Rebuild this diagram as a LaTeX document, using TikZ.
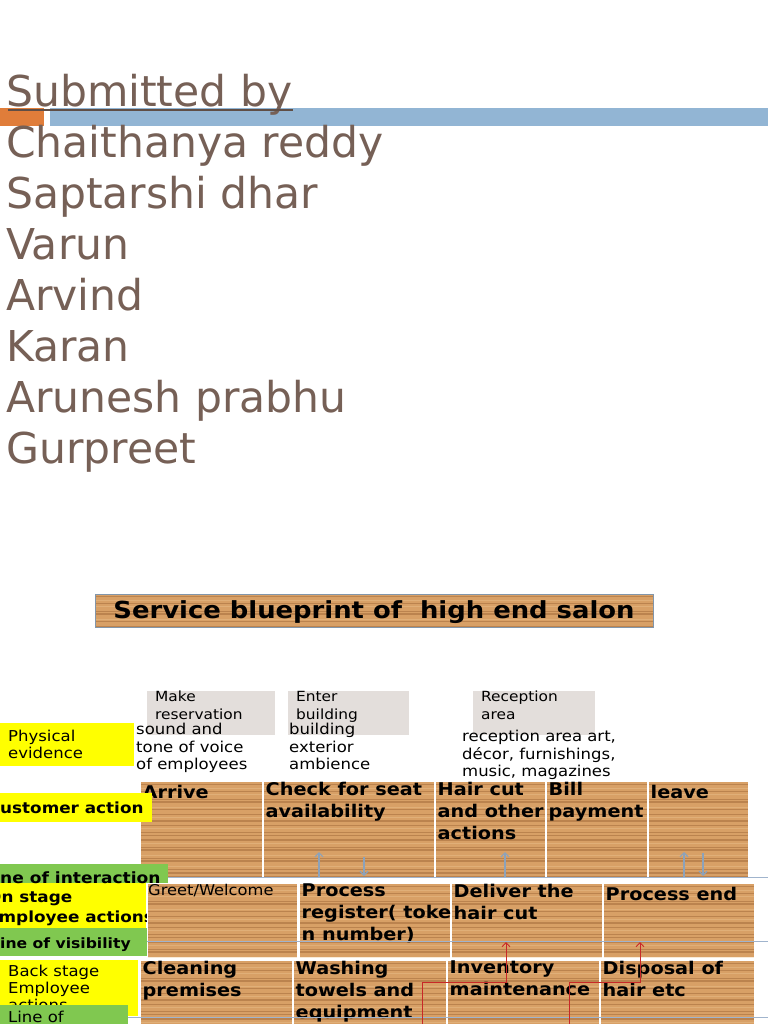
\documentclass[tikz,border=0pt]{standalone}
\usepackage{fontspec}
\setmainfont{DejaVu Sans}
\newfontfamily\bp{DejaVu Sans}[FakeStretch=1.1]
\usetikzlibrary{arrows.meta,calc}
\definecolor{namec}{RGB}{118,96,86}
\definecolor{underc}{RGB}{95,78,70}
\definecolor{orangebar}{RGB}{224,125,58}
\definecolor{bluebar}{RGB}{146,181,212}
\definecolor{woodbase}{RGB}{216,160,102}
\definecolor{wooddark}{RGB}{140,85,40}
\definecolor{woodlight}{RGB}{238,200,150}
\definecolor{grayboxc}{RGB}{227,222,219}
\definecolor{lblyellow}{RGB}{255,255,0}
\definecolor{lblgreen}{RGB}{128,200,80}
\definecolor{sepc}{RGB}{160,180,205}
\definecolor{arrowgray}{RGB}{140,162,186}
\definecolor{redline}{RGB}{200,40,40}
\definecolor{titleborder}{RGB}{130,150,170}
\newcommand\woodstripes{%
  \foreach \dy/\w/\c in {2/0.6/wooddark,6/0.4/woodlight,9/1.0/wooddark,12/0.5/woodlight,17/0.7/wooddark,20/1.4/wooddark,25/0.5/woodlight,27/0.6/wooddark,32/0.9/wooddark,35/0.4/woodlight,39/1.2/wooddark,43/0.5/wooddark,46/0.6/woodlight,50/1.0/wooddark,53/0.5/wooddark,58/1.5/wooddark,61/0.5/woodlight,65/0.7/wooddark,68/1.1/wooddark,73/0.4/woodlight,76/0.8/wooddark,79/1.3/wooddark,84/0.5/woodlight,87/0.6/wooddark,91/1.6/wooddark,94/0.5/wooddark}
  {\draw[color=\c, line width=\w pt, opacity=0.38]
     ([yshift=-\dy pt]path picture bounding box.north west) --
     ([yshift=-\dy pt]path picture bounding box.north east);}}
\tikzset{
  woodbox/.style={fill=woodbase, inner sep=0pt, outer sep=0pt, anchor=north west, path picture={\woodstripes}},
  boxtext/.style={anchor=north west, inner xsep=1.5pt, inner ysep=0pt, align=left, text=black,
    font=\bp\bfseries\fontsize{17.5}{22}\selectfont, execute at begin node={\rule{0pt}{16pt}}},
  smalltext/.style={anchor=north west, inner xsep=0pt, inner ysep=0pt, align=left, text=black,
    font=\bp\fontsize{14.8}{17}\selectfont, execute at begin node={\rule{0pt}{11.5pt}}},
  graybox/.style={fill=grayboxc, inner sep=0pt, outer sep=0pt, anchor=north west},
  graytext/.style={anchor=north west, inner xsep=8pt, inner ysep=0pt, align=left, text=black,
    font=\bp\fontsize{14}{18}\selectfont, execute at begin node={\rule{0pt}{18pt}}},
  petext/.style={anchor=north west, inner sep=0pt, align=left, text=black,
    font=\bp\fontsize{15}{17.5}\selectfont, execute at begin node={\rule{0pt}{12pt}}},
  ylw/.style={fill=lblyellow, inner sep=0pt, outer sep=0pt, anchor=north west},
  grn/.style={fill=lblgreen, inner sep=0pt, outer sep=0pt, anchor=north west},
  lbltext/.style={anchor=north west, inner sep=0pt, align=left, text=black,
    font=\bp\fontsize{15}{17}\selectfont, execute at begin node={\rule{0pt}{12pt}}},
  lblbold/.style={lbltext, font=\bp\bfseries\fontsize{15.3}{20}\selectfont},
  sepline/.style={draw=sepc, line width=1pt},
  garrow/.style={draw=arrowgray, line width=1.2pt, -{Straight Barb[length=4pt,width=8pt]}},
  rarrow/.style={draw=redline, line width=1pt, -{Straight Barb[length=4pt,width=8pt]}},
}
\begin{document}
\begin{tikzpicture}[x=1pt,y=-1pt]
\useasboundingbox (0,0) rectangle (768,1024);
\fill[white] (0,0) rectangle (768,1024);

% header bars
\fill[orangebar] (0,108) rectangle (44,126);
\fill[bluebar] (50,108) rectangle (768,126);

% names
\node[anchor=north west, inner sep=0pt, text=namec, font=\fontsize{42.5}{51}\selectfont,
  execute at begin node={\rule{0pt}{36pt}}] (sub) at (6,70) {Submitted by};
\draw[underc, line width=2pt] (8,110.5) -- (293,110.5);
\node[anchor=north west, inner sep=0pt, align=left, text=namec, font=\fontsize{42.5}{51}\selectfont,
  execute at begin node={\rule{0pt}{36pt}}] (names) at (6,125)
  {Chaithanya reddy\\Saptarshi dhar\\Varun\\Arvind\\Karan\\Arunesh prabhu\\Gurpreet};

% title
\node[woodbox, draw=titleborder, line width=1pt, minimum width=558, minimum height=33,
  text height=22pt, text depth=5.4pt, font=\bp\bfseries\fontsize{23.5}{26}\selectfont, text=black]
  (title) at (95,594) {Service blueprint of\ \ high end salon};

% line of interaction (behind boxes)
\draw[sepline] (0,877) -- (768,877);

% customer actions
\node[woodbox, minimum width=121, minimum height=95, label={[boxtext]north west:Arrive}] (ca1) at (141,782) {};
\node[woodbox, minimum width=170, minimum height=95, label={[boxtext]north west:Check for seat\\availability}] (ca2) at (264,782) {};
\node[woodbox, minimum width=109, minimum height=95, label={[boxtext]north west:Hair cut\\and other\\actions}] (ca3) at (436,782) {};
\node[woodbox, minimum width=100, minimum height=95, label={[boxtext]north west:Bill\\payment}] (ca4) at (547,782) {};
\node[woodbox, minimum width=99, minimum height=95, label={[boxtext]north west:leave}] (ca5) at (649,782) {};

% onstage
\node[woodbox, minimum width=149, minimum height=73, label={[smalltext]north west:Greet/Welcome}] (os1) at (148,884) {};
\node[woodbox, minimum width=150, minimum height=73, label={[boxtext]north west:Process\\register( toke\\n number)}] (os2) at (300,884) {};
\node[woodbox, minimum width=150, minimum height=73, label={[boxtext]north west:Deliver the\\hair cut}] (os3) at (452,884) {};
\node[woodbox, minimum width=150, minimum height=73, label={[boxtext]north west:Process end}] (os4) at (604,884) {};

% backstage
\node[woodbox, minimum width=151, minimum height=63, label={[boxtext]north west:Cleaning\\premises}] (bs1) at (141,961) {};
\node[woodbox, minimum width=152, minimum height=63, label={[boxtext]north west:Washing\\towels and\\equipment}] (bs2) at (294,961) {};
\node[woodbox, minimum width=151, minimum height=63, label={[boxtext]north west:Inventory\\maintenance}] (bs3) at (448,961) {};
\node[woodbox, minimum width=153, minimum height=63, label={[boxtext]north west:Disposal of\\hair etc}] (bs4) at (601,961) {};

% physical evidence grey boxes
\node[graybox, minimum width=128, minimum height=44, label={[graytext]north west:Make\\reservation}] (g1) at (147,691) {};
\node[graybox, minimum width=121, minimum height=44, label={[graytext]north west:Enter\\building}] (g2) at (288,691) {};
\node[graybox, minimum width=122, minimum height=44, label={[graytext]north west:Reception\\area}] (g3) at (473,691) {};

\node[petext] (pe1) at (136,723) {sound and\\tone of voice\\of employees};
\node[petext] (pe2) at (289,723) {building\\exterior\\ambience};
\node[petext] (pe3) at (462,730) {reception area art,\\décor, furnishings,\\music, magazines};

% row labels
\node[ylw, minimum width=134, minimum height=43,
  label={[lbltext, xshift=8pt, yshift=-7pt]north west:Physical\\evidence}] (lpe) at (0,723) {};
\node[ylw, minimum width=152, minimum height=29,
  label={[lblbold, xshift=-12.4pt, yshift=-8pt]north west:Customer action}] (lca) at (0,793) {};
\begin{scope}
  \clip (0,883) rectangle (146,928);
  \node[ylw, minimum width=146, minimum height=45,
    label={[lblbold, xshift=-13pt, yshift=-8pt]north west:On stage\\Employee actions}] (los) at (0,883) {};
\end{scope}
\node[grn, minimum width=168, minimum height=19,
  label={[lblbold, font=\bp\bfseries\fontsize{15.5}{20}\selectfont, xshift=-16.7pt, yshift=-7pt]north west:Line of interaction}] (lli) at (0,864) {};
\node[grn, minimum width=147, minimum height=28,
  label={[lblbold, font=\bp\bfseries\fontsize{14.2}{20}\selectfont, xshift=-10pt, yshift=-8pt]north west:Line of visibility}] (llv) at (0,928) {};
\node[ylw, minimum width=138, minimum height=56,
  label={[lbltext, xshift=8pt, yshift=-5pt]north west:Back stage\\Employee\\actions}] (lbs) at (0,960) {};
\node[grn, minimum width=128, minimum height=24,
  label={[lbltext, xshift=8pt, yshift=-5pt]north west:Line of}] (lil) at (0,1005) {};

% lines over boxes
\draw[sepline] (147,941) -- (768,941);
\draw[sepline] (128,1017) -- (768,1017);

% interaction arrows
\coordinate (a1s) at (319,877); \coordinate (a1e) at (319,852);
\coordinate (a2s) at (364,857); \coordinate (a2e) at (364,876);
\coordinate (a3s) at (505,877); \coordinate (a3e) at (505,852);
\coordinate (a4s) at (684,877); \coordinate (a4e) at (684,852);
\coordinate (a5s) at (703,853); \coordinate (a5e) at (703,876);
\draw[garrow] (a1s) -- (a1e);
\draw[garrow] (a2s) -- (a2e);
\draw[garrow] (a3s) -- (a3e);
\draw[garrow] (a4s) -- (a4e);
\draw[garrow] (a5s) -- (a5e);

% internal interaction arrows
\coordinate (r1s) at (422,1026); \coordinate (r1m) at (422,982); \coordinate (r1e) at (506,942);
\coordinate (r2s) at (569,1026); \coordinate (r2m) at (569,982); \coordinate (r2e) at (640,942);
\draw[rarrow] (r1s) -- (r1m) -| (r1e);
\draw[rarrow] (r2s) -- (r2m) -| (r2e);
\end{tikzpicture}
\end{document}
